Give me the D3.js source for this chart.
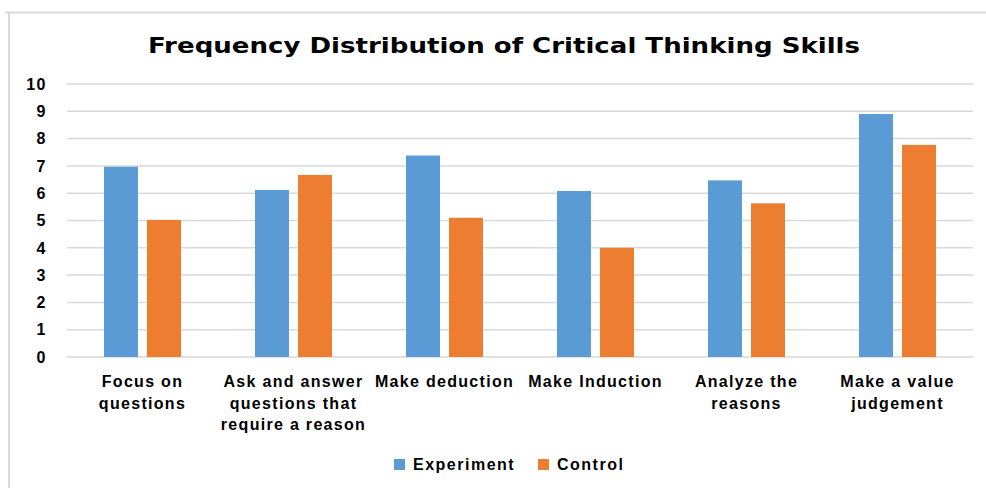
<!DOCTYPE html>
<html>
<head>
<meta charset="utf-8">
<script src="https://cdn.jsdelivr.net/npm/d3@7"></script>
<style>
  body { margin: 0; background: #fff; }
  svg { display: block; }
</style>
</head>
<body>
<script>
// data
const categories = [
  "Focus on\nquestions",
  "Ask and answer\nquestions that\nrequire a reason",
  "Make deduction",
  "Make Induction",
  "Analyze the\nreasons",
  "Make a value\njudgement"
];
const seriesNames = ["Experiment", "Control"];
const experiment = [6.97, 6.12, 7.38, 6.08, 6.47, 8.9];
const control = [5.02, 6.67, 5.1, 4.0, 5.63, 7.77];
const yTicks = [0, 1, 2, 3, 4, 5, 6, 7, 8, 9, 10];
const colors = ["#5b9bd5", "#ed7d31"];

const width = 986, height = 488;
const margin = {top: 84, right: 13, bottom: 131, left: 67};

const rows = categories.map((c, i) => ({cat: c, values: [experiment[i], control[i]]}));

const svg = d3.select("body").append("svg")
    .attr("width", width)
    .attr("height", height)
    .style("font-family", "'Liberation Sans', Arial, sans-serif");

// chart frame (only top and left edges visible in the reference)
svg.append("path")
    .attr("d", `M5,12.5H${width}M9,12V${height}`)
    .attr("stroke", "#d9d9d9")
    .attr("stroke-width", 2)
    .attr("fill", "none");

const x0 = d3.scaleBand()
    .domain(categories)
    .range([margin.left, width - margin.right]);

const half = 38.5;
const x1 = d3.scaleBand()
    .domain(seriesNames)
    .range([x0.bandwidth() / 2 - half, x0.bandwidth() / 2 + half])
    .paddingInner(0.21);

const y = d3.scaleLinear()
    .domain([0, 10])
    .range([height - margin.bottom, margin.top]);

// gridlines
svg.append("g")
  .selectAll("line")
  .data(yTicks)
  .join("line")
    .attr("x1", margin.left)
    .attr("x2", width - margin.right)
    .attr("y1", d => y(d))
    .attr("y2", d => y(d))
    .attr("stroke", "#d9d9d9")
    .attr("stroke-width", 1.5);

// y tick labels
svg.append("g")
    .attr("text-anchor", "end")
  .selectAll("text")
  .data(yTicks)
  .join("text")
    .attr("x", 47)
    .attr("y", d => y(d))
    .attr("dy", "0.36em")
    .attr("font-size", 16)
    .attr("font-weight", "bold")
    .attr("letter-spacing", 1.5)
    .attr("fill", "#000")
    .text(d => d);

// bars
const group = svg.append("g")
  .selectAll("g")
  .data(rows)
  .join("g")
    .attr("transform", d => `translate(${x0(d.cat)},0)`);

group.selectAll("rect")
  .data(d => d.values.map((v, i) => ({key: seriesNames[i], value: v, i})))
  .join("rect")
    .attr("x", d => x1(d.key))
    .attr("width", x1.bandwidth())
    .attr("y", d => y(d.value))
    .attr("height", d => y(0) - y(d.value))
    .attr("fill", d => colors[d.i]);

// category labels
const labels = svg.append("g")
    .attr("text-anchor", "middle")
  .selectAll("text")
  .data(categories)
  .join("text")
    .attr("x", d => x0(d) + x0.bandwidth() / 2)
    .attr("y", 387)
    .attr("font-size", 16)
    .attr("font-weight", "bold")
    .attr("letter-spacing", 1.3)
    .attr("fill", "#000");

labels.selectAll("tspan")
  .data(d => d.split("\n"))
  .join("tspan")
    .attr("x", function() { return this.parentNode.getAttribute("x"); })
    .attr("dy", (d, i) => i ? 21.7 : 0)
    .text(d => d);

// title
svg.append("text")
    .attr("x", 504)
    .attr("y", 53)
    .attr("text-anchor", "middle")
    .attr("font-family", "'DejaVu Sans', sans-serif")
    .attr("font-size", 22)
    .attr("font-weight", "bold")
    .attr("textLength", 712)
    .attr("lengthAdjust", "spacingAndGlyphs")
    .text("Frequency Distribution of Critical Thinking Skills");

// legend
const legendX = [394, 538];
const legend = svg.append("g")
  .selectAll("g")
  .data(seriesNames)
  .join("g")
    .attr("transform", (d, i) => `translate(${legendX[i]},459)`);

legend.append("rect")
    .attr("width", 11)
    .attr("height", 11)
    .attr("fill", (d, i) => colors[i]);

legend.append("text")
    .attr("x", 19)
    .attr("y", 10.5)
    .attr("font-size", 16)
    .attr("font-weight", "bold")
    .attr("letter-spacing", 1.5)
    .text(d => d);
</script>
</body>
</html>
